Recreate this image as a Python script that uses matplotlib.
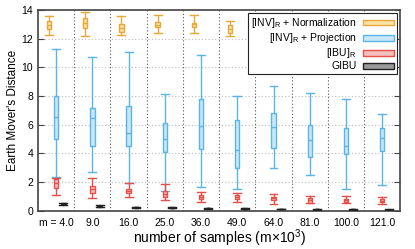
import numpy as np
import matplotlib.pyplot as plt
from matplotlib.patches import Patch

plt.rcParams["font.family"] = ["Liberation Sans", "DejaVu Sans"]
plt.rcParams["mathtext.fontset"] = "custom"
plt.rcParams["mathtext.rm"] = "Liberation Sans"

# sample sizes (m x 10^3)
sizes = ["m = 4.0", "9.0", "16.0", "25.0", "36.0", "49.0", "64.0", "81.0", "100.0", "121.0"]

# [INV]_R + Normalization (groups 7-10 hidden behind the legend)
norm_lo = [12.26, 12.21, 12.28, 12.40, 12.40, 12.19]
norm_q1 = [12.66, 12.77, 12.45, 12.80, 12.84, 12.42]
norm_med = [12.96, 13.07, 12.75, 12.98, 13.00, 12.68]
norm_q3 = [13.26, 13.42, 13.03, 13.17, 13.12, 12.96]
norm_hi = [13.57, 13.84, 13.57, 13.68, 13.63, 13.26]

# [INV]_R + Projection
proj_lo = [2.33, 2.72, 1.91, 1.40, 1.63, 1.51, 2.96, 2.47, 1.54, 1.77]
proj_q1 = [5.00, 4.54, 4.54, 4.10, 4.33, 2.98, 4.40, 3.75, 3.98, 4.17]
proj_med = [6.54, 6.45, 5.40, 4.98, 5.91, 4.21, 5.84, 4.91, 4.54, 5.05]
proj_q3 = [8.03, 7.19, 7.28, 6.10, 7.77, 6.33, 6.80, 5.98, 5.75, 5.75]
proj_hi = [11.26, 10.73, 11.05, 8.12, 10.84, 8.03, 8.68, 8.19, 7.77, 6.73]

# [IBU]_R
ibu_lo = [1.07, 0.87, 0.98, 0.73, 0.63, 0.61, 0.49, 0.51, 0.56, 0.45]
ibu_q1 = [1.60, 1.21, 1.21, 0.93, 0.82, 0.82, 0.75, 0.56, 0.61, 0.59]
ibu_med = [1.91, 1.49, 1.37, 1.14, 0.93, 0.96, 0.86, 0.75, 0.72, 0.68]
ibu_q3 = [2.21, 1.70, 1.49, 1.35, 1.07, 1.07, 0.98, 0.91, 0.82, 0.79]
ibu_hi = [2.30, 2.26, 1.91, 1.84, 1.28, 1.26, 1.14, 1.00, 1.00, 0.96]

# GIBU
gibu_lo = [0.42, 0.26, 0.20, 0.17, 0.15, 0.12, 0.10, 0.08, 0.07, 0.05]
gibu_q1 = [0.45, 0.28, 0.22, 0.19, 0.16, 0.13, 0.11, 0.09, 0.08, 0.06]
gibu_med = [0.49, 0.31, 0.24, 0.21, 0.18, 0.15, 0.12, 0.10, 0.09, 0.07]
gibu_q3 = [0.53, 0.34, 0.26, 0.23, 0.20, 0.17, 0.14, 0.12, 0.10, 0.08]
gibu_hi = [0.56, 0.36, 0.28, 0.25, 0.22, 0.18, 0.15, 0.13, 0.11, 0.09]

series = [
    ("[INV]$_\\mathrm{R}$ + Normalization", -0.2, "#E9A83A", "#FBE3A6",
     (norm_lo, norm_q1, norm_med, norm_q3, norm_hi)),
    ("[INV]$_\\mathrm{R}$ + Projection", 0.0, "#5BB5E8", "#C8E7F8",
     (proj_lo, proj_q1, proj_med, proj_q3, proj_hi)),
    ("[IBU]$_\\mathrm{R}$", 0.0, "#E5504A", "#F6C0BE",
     (ibu_lo, ibu_q1, ibu_med, ibu_q3, ibu_hi)),
    ("GIBU", 0.2, "#222222", "#9A9A9A",
     (gibu_lo, gibu_q1, gibu_med, gibu_q3, gibu_hi)),
]

fig = plt.figure(figsize=(4.15, 2.49), dpi=100)
ax = fig.add_axes([0.0916, 0.154, 0.873, 0.806])

handles = []
for label, off, edge, fill, (lo, q1, med, q3, hi) in series:
    stats = []
    for i in range(len(lo)):
        stats.append(dict(whislo=lo[i], q1=q1[i], med=med[i], q3=q3[i], whishi=hi[i], fliers=[]))
    pos = np.arange(len(lo)) + off
    ax.bxp(stats, positions=pos, widths=0.12, patch_artist=True, showfliers=False,
           boxprops=dict(facecolor=fill, edgecolor=edge, linewidth=1.0),
           medianprops=dict(color=edge, linewidth=1.0),
           whiskerprops=dict(color=edge, linewidth=1.0),
           capprops=dict(color=edge, linewidth=1.0),
           capwidths=0.22, zorder=3)
    handles.append(Patch(facecolor=fill, edgecolor=edge, linewidth=1.0, label=label))

# separators between groups
for i in range(len(sizes) - 1):
    ax.axvline(i + 0.5, color="#555555", linestyle=(0, (1, 2)), linewidth=0.8, zorder=1)

ax.set_xlim(-0.5, len(sizes) - 0.5)
ax.set_ylim(0, 14)
ax.set_yticks(np.arange(0, 15, 2))
ax.set_xticks(np.arange(len(sizes)))
ax.set_xticklabels(sizes)
ax.yaxis.grid(True, color="#BBBBBB", linestyle=(0, (1, 2)), linewidth=0.8)
ax.set_axisbelow(True)
ax.tick_params(axis="y", direction="in", right=True, labelsize=7.5, length=4, color="#444444")
ax.tick_params(axis="x", length=0, labelsize=7.5, pad=5)
for sp in ax.spines.values():
    sp.set_color("#444444")
    sp.set_linewidth(1.2)

ax.set_xlabel("number of samples (m\u00d710$^3$)", fontsize=10, labelpad=0)
ax.set_ylabel("Earth Mover's Distance", fontsize=8.5, labelpad=2)

leg = ax.legend(handles=handles, loc="upper right", fontsize=7.5, markerfirst=False,
                fancybox=False, framealpha=1, edgecolor="#222222",
                handlelength=3.0, handleheight=0.5, borderpad=0.3,
                labelspacing=0.1, borderaxespad=0.3, handletextpad=0.6)
leg.get_frame().set_linewidth(0.8)
leg.set_zorder(5)

fig.savefig("out.png", dpi=100)
